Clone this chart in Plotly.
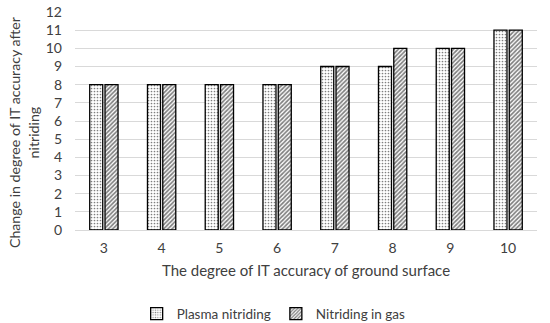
import plotly.graph_objects as go

categories = ["3", "4", "5", "6", "7", "8", "9", "10"]
plasma = [8, 8, 8, 8, 9, 9, 10, 11]
gas = [8, 8, 8, 8, 9, 10, 10, 11]
y_ticks = list(range(0, 13))

font = "Lato, 'Open Sans', sans-serif"

fig = go.Figure()
fig.add_trace(go.Bar(
    x=categories, y=plasma, name="Plasma nitriding",
    marker=dict(color="white", line=dict(color="black", width=1.3),
                pattern=dict(shape=".", fgcolor="black", bgcolor="white", size=3, solidity=0.25)),
))
fig.add_trace(go.Bar(
    x=categories, y=gas, name="Nitriding in gas",
    marker=dict(color="white", line=dict(color="black", width=1.3),
                pattern=dict(shape="/", fgcolor="black", bgcolor="white", size=3, solidity=0.55)),
))

fig.update_layout(
    width=550, height=323,
    margin=dict(l=75, r=13, t=12, b=93, autoexpand=False),
    paper_bgcolor="white", plot_bgcolor="white",
    barmode="group", bargap=0.47, bargroupgap=0.15,
    font=dict(family=font, size=14, color="#404040"),
    showlegend=True,
    legend=dict(orientation="h", x=0.43, xanchor="center", y=-0.385, yanchor="middle",
                font=dict(size=13.5, color="#404040"), traceorder="normal", itemwidth=30),
    xaxis=dict(
        title=dict(text="The degree of IT accuracy of ground surface", font=dict(size=15), standoff=10),
        showgrid=False, showline=False, ticks="", tickfont=dict(size=14), automargin=False,
        ticklabelstandoff=8,
    ),
    yaxis=dict(
        range=[0, 12], tickvals=y_ticks, showgrid=True, gridcolor="#d9d9d9", gridwidth=1,
        zeroline=True, zerolinecolor="#d9d9d9", zerolinewidth=1,
        showline=False, ticks="", tickfont=dict(size=14), automargin=False,
        ticklabelstandoff=12, ticklabeloverflow="allow",
    ),
    annotations=[dict(
        text="Change in degree of IT accuracy after<br>nitriding",
        xref="paper", yref="paper", x=-0.11, y=0.45, xanchor="center", yanchor="middle",
        textangle=-90, showarrow=False, font=dict(size=14.2, color="#404040"),
    )],
)

fig.write_html("out.html", config={"displayModeBar": False},
               post_script="document.body.style.margin='0';")
